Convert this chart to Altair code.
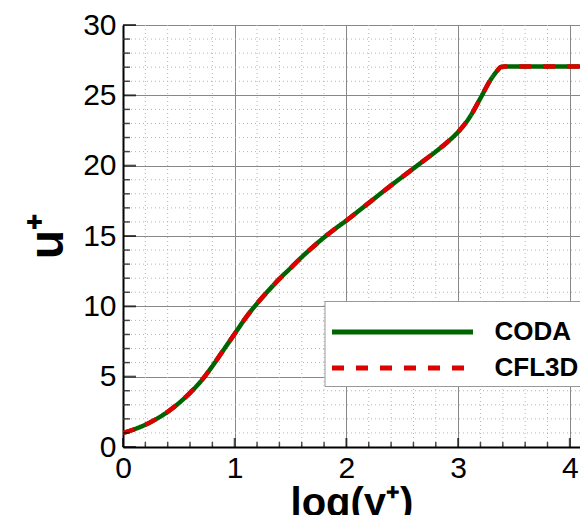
import altair as alt
import pandas as pd

# ---- data ----
log_yplus = [0.0, 0.1, 0.2, 0.3, 0.4, 0.5, 0.6, 0.7, 0.8, 0.9,
             1.0, 1.1, 1.2, 1.3, 1.4, 1.5, 1.6, 1.7, 1.8, 1.9,
             2.0, 2.1, 2.2, 2.3, 2.4, 2.5, 2.6, 2.7, 2.8, 2.9,
             3.0, 3.1, 3.2, 3.29, 3.35, 3.38, 3.42, 3.6, 3.8, 4.0, 4.2]
coda_u = [1.0, 1.26, 1.58, 2.0, 2.5, 3.12, 3.85, 4.7, 5.75, 6.9,
          8.05, 9.2, 10.2, 11.1, 11.95, 12.72, 13.5, 14.22, 14.9, 15.52,
          16.1, 16.72, 17.35, 17.98, 18.6, 19.2, 19.8, 20.4, 21.0, 21.65,
          22.4, 23.4, 24.8, 26.1, 26.75, 27.0, 27.05, 27.05, 27.05, 27.05, 27.05]
cfl3d_u = [1.0, 1.26, 1.58, 2.0, 2.5, 3.12, 3.85, 4.7, 5.75, 6.9,
           8.05, 9.2, 10.2, 11.1, 11.95, 12.72, 13.5, 14.22, 14.9, 15.52,
           16.1, 16.72, 17.35, 17.98, 18.6, 19.2, 19.8, 20.4, 21.0, 21.65,
           22.4, 23.4, 24.8, 26.1, 26.75, 27.0, 27.05, 27.05, 27.05, 27.05, 27.05]

series_names = ["CODA", "CFL3D"]
series_colors = ["#006400", "#dd0000"]
series_dashes = [[1, 0], [12, 12]]

x_major = [0, 1, 2, 3, 4]
x_minor = [0.2, 0.4, 0.6, 0.8, 1.2, 1.4, 1.6, 1.8, 2.2, 2.4, 2.6, 2.8,
           3.2, 3.4, 3.6, 3.8]
y_major = [0, 5, 10, 15, 20, 25, 30]
y_minor = [v for v in range(1, 30) if v % 5 != 0]

X_MAX = 4.091
W, H = 457, 422
FONT = "Liberation Sans"

df_coda = pd.DataFrame({"logy": log_yplus, "u": coda_u, "solver": "CODA"})
df_cfl = pd.DataFrame({"logy": log_yplus, "u": cfl3d_u, "solver": "CFL3D"})
df_xmaj = pd.DataFrame({"logy": x_major})
df_xmin = pd.DataFrame({"logy": x_minor})
df_ymaj = pd.DataFrame({"u": y_major})
df_ymin = pd.DataFrame({"u": y_minor})

xs = alt.Scale(domain=[0, X_MAX], nice=False, zero=False)
ys = alt.Scale(domain=[0, 30], nice=False, zero=False)

x_axis = alt.Axis(values=x_major, title="log(y⁺)", titleFontSize=40, titlePadding=0,
                  labelPadding=6)
y_axis = alt.Axis(values=y_major, title="u⁺", titleFontSize=48, titlePadding=10,
                  labelPadding=7)

legend = alt.Legend(title=" ", titleFontSize=14, titlePadding=0, orient="none",
                    legendX=201.5, legendY=276, padding=5, fillColor="white",
                    strokeColor="#999999", symbolType="stroke", symbolSize=19881,
                    symbolStrokeWidth=5, clipHeight=24, rowPadding=10,
                    labelFont=FONT, labelFontSize=26, labelFontWeight="bold",
                    labelColor="black", labelOffset=19, labelLimit=600)

color_enc = alt.Color("solver:N", scale=alt.Scale(domain=series_names, range=series_colors),
                      legend=legend)
dash_enc = alt.StrokeDash("solver:N", scale=alt.Scale(domain=series_names, range=series_dashes),
                          legend=legend)

X = alt.X("logy:Q", scale=xs, axis=x_axis)
Y = alt.Y("u:Q", scale=ys, axis=y_axis)

line_coda = alt.Chart(df_coda).mark_line(strokeWidth=4.5, interpolate="monotone", clip=True).encode(
    x=X, y=Y, color=color_enc, strokeDash=dash_enc)
line_cfl = alt.Chart(df_cfl).mark_line(strokeWidth=4.5, interpolate="monotone", clip=True).encode(
    x=X, y=Y, color=color_enc, strokeDash=dash_enc)

grid_x_minor = alt.Chart(df_xmin).mark_rule(color="#b5b5b5", strokeDash=[1, 3], strokeWidth=1).encode(x=X)
grid_y_minor = alt.Chart(df_ymin).mark_rule(color="#b5b5b5", strokeDash=[1, 3], strokeWidth=1).encode(y=Y)

# inward axis ticks (tick marks centred just inside the axes)
tick_x_major = alt.Chart(df_xmaj).mark_tick(color="black", thickness=2, size=9, orient="vertical").encode(
    x=X, y=alt.value(H - 4.5))
tick_x_minor = alt.Chart(df_xmin).mark_tick(color="black", thickness=1.5, size=5, orient="vertical").encode(
    x=X, y=alt.value(H - 2.5))
tick_y_major = alt.Chart(df_ymaj).mark_tick(color="black", thickness=2, size=13, orient="horizontal").encode(
    y=Y, x=alt.value(6.5))
tick_y_minor = alt.Chart(df_ymin).mark_tick(color="black", thickness=1.5, size=7, orient="horizontal").encode(
    y=Y, x=alt.value(3.5))

chart = alt.layer(
    grid_x_minor, grid_y_minor, line_coda, line_cfl,
    tick_x_major, tick_x_minor, tick_y_major, tick_y_minor
).properties(
    width=W, height=H,
    autosize=alt.AutoSizeParams(type="none"),
    padding={"left": 115, "top": 17, "right": 0, "bottom": 68},
    background="white",
).configure_view(stroke=None).configure(font=FONT).configure_axis(
    labelFont=FONT, labelFontSize=30, labelColor="black",
    labelFlush=False, labelOverlap=False,
    titleFont=FONT, titleFontWeight="bold", titleColor="black",
    ticks=False, tickSize=0,
    domainColor="black", domainWidth=2,
    grid=True, gridColor="#888888", gridWidth=1,
)

chart.save("out.html", embed_options={"renderer": "svg", "actions": False})
